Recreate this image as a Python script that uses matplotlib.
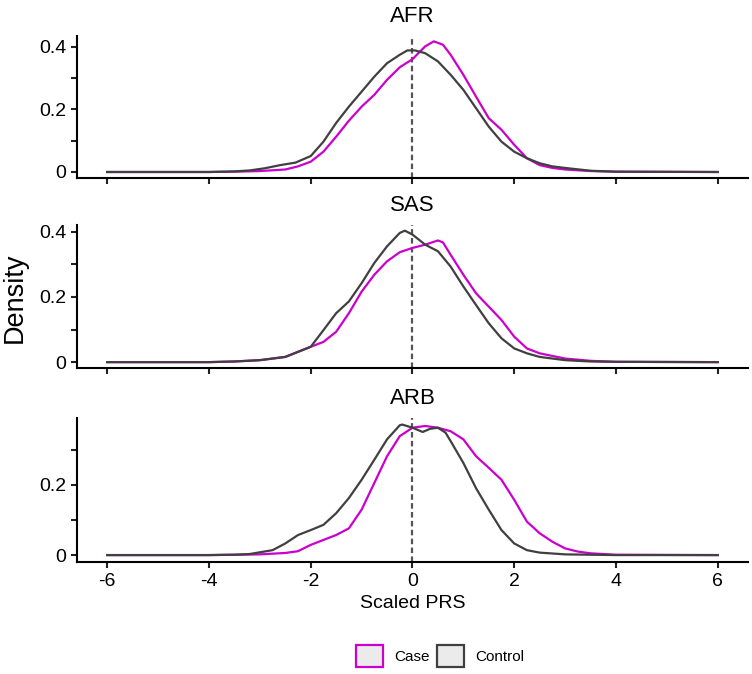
import matplotlib.pyplot as plt
from matplotlib.patches import Patch

plt.rcParams['font.family'] = ['Liberation Sans', 'DejaVu Sans']

panels = ['AFR', 'SAS', 'ARB']

# values (Scaled PRS, density)
afr_ctrl_x = [-6, -4, -3.5, -3.2, -2.9, -2.6, -2.3, -2.0, -1.75, -1.5, -1.25, -1.0, -0.75, -0.5,
              -0.25, -0.1, 0.05, 0.25, 0.5, 0.75, 1.0, 1.25, 1.5, 1.75, 2.0, 2.25, 2.5, 2.75, 3.0, 3.5, 4.0, 6.0]
afr_ctrl_y = [0, 0.0, 0.002, 0.005, 0.012, 0.022, 0.03, 0.051, 0.097, 0.157, 0.209, 0.257, 0.305, 0.348,
              0.375, 0.389, 0.389, 0.38, 0.354, 0.311, 0.263, 0.204, 0.145, 0.097, 0.065, 0.044, 0.028, 0.018, 0.013, 0.004, 0.001, 0]
afr_case_x = [-6, -4, -3.5, -3.0, -2.5, -2.25, -2.0, -1.75, -1.5, -1.25, -1.0, -0.75, -0.5, -0.25,
              0.0, 0.25, 0.42, 0.6, 0.75, 1.0, 1.25, 1.5, 1.75, 2.0, 2.25, 2.5, 2.75, 3.0, 3.5, 4.0, 6.0]
afr_case_y = [0, 0.0, 0.001, 0.003, 0.008, 0.018, 0.033, 0.065, 0.113, 0.164, 0.209, 0.247, 0.295, 0.335,
              0.361, 0.402, 0.418, 0.407, 0.375, 0.311, 0.241, 0.172, 0.135, 0.087, 0.044, 0.022, 0.013, 0.008, 0.003, 0.001, 0]

sas_ctrl_x = [-6, -4, -3.5, -3.0, -2.5, -2.0, -1.75, -1.5, -1.25, -1.0, -0.75, -0.5, -0.25, -0.15,
              0.0, 0.25, 0.5, 0.75, 1.0, 1.25, 1.5, 1.75, 2.0, 2.25, 2.5, 3.0, 3.5, 4.0, 6.0]
sas_ctrl_y = [0, 0.0, 0.002, 0.006, 0.016, 0.047, 0.098, 0.15, 0.186, 0.242, 0.304, 0.355, 0.396, 0.403,
              0.391, 0.36, 0.34, 0.293, 0.232, 0.175, 0.119, 0.073, 0.042, 0.027, 0.016, 0.006, 0.002, 0.001, 0]
sas_case_x = [-6, -4, -3.5, -3.0, -2.5, -2.0, -1.75, -1.5, -1.25, -1.0, -0.75, -0.5, -0.25, 0.0,
              0.25, 0.5, 0.6, 0.75, 1.0, 1.25, 1.5, 1.75, 2.0, 2.25, 2.5, 3.0, 3.5, 4.0, 6.0]
sas_case_y = [0, 0.0, 0.002, 0.006, 0.016, 0.047, 0.062, 0.093, 0.15, 0.216, 0.268, 0.309, 0.337, 0.35,
              0.36, 0.373, 0.367, 0.329, 0.268, 0.211, 0.17, 0.129, 0.078, 0.042, 0.027, 0.011, 0.004, 0.001, 0]

arb_ctrl_x = [-6, -4, -3.5, -3.2, -2.75, -2.5, -2.25, -2.0, -1.75, -1.5, -1.25, -1.0, -0.75, -0.5,
              -0.25, -0.2, 0.0, 0.2, 0.35, 0.5, 0.65, 0.75, 1.0, 1.25, 1.5, 1.75, 2.0, 2.25, 2.5, 3.0, 4.0, 6.0]
arb_ctrl_y = [0, 0.0, 0.001, 0.003, 0.014, 0.033, 0.057, 0.071, 0.086, 0.119, 0.162, 0.214, 0.271, 0.329,
              0.369, 0.371, 0.362, 0.35, 0.359, 0.362, 0.348, 0.324, 0.262, 0.19, 0.129, 0.071, 0.033, 0.014, 0.007, 0.002, 0.0, 0]
arb_case_x = [-6, -4, -3.5, -3.0, -2.5, -2.25, -2.0, -1.75, -1.5, -1.25, -1.0, -0.75, -0.5, -0.25,
              0.0, 0.25, 0.5, 0.75, 1.0, 1.25, 1.5, 1.75, 2.0, 2.25, 2.5, 2.75, 3.0, 3.25, 3.5, 4.0, 6.0]
arb_case_y = [0, 0.0, 0.001, 0.002, 0.006, 0.011, 0.029, 0.043, 0.057, 0.076, 0.129, 0.205, 0.281, 0.338,
              0.362, 0.367, 0.362, 0.352, 0.329, 0.281, 0.248, 0.214, 0.157, 0.095, 0.062, 0.038, 0.019, 0.01, 0.005, 0.001, 0]

ctrl = [(afr_ctrl_x, afr_ctrl_y), (sas_ctrl_x, sas_ctrl_y), (arb_ctrl_x, arb_ctrl_y)]
case = [(afr_case_x, afr_case_y), (sas_case_x, sas_case_y), (arb_case_x, arb_case_y)]
ylims = [(-0.019, 0.436), (-0.018, 0.42), (-0.02, 0.39)]
yticks = [[0, 0.1, 0.2, 0.3, 0.4], [0, 0.1, 0.2, 0.3, 0.4], [0, 0.1, 0.2, 0.3]]

case_col = '#CC00CC'
ctrl_col = '#404040'

fig = plt.figure(figsize=(7.52, 6.74), dpi=100)
boxes = [[0.102, 0.736, 0.893, 0.211],
         [0.102, 0.454, 0.893, 0.212],
         [0.102, 0.166, 0.893, 0.214]]

for i, name in enumerate(panels):
    ax = fig.add_axes(boxes[i])
    ax.axvline(0, color='#555555', lw=1.6, linestyle=(0, (2.5, 1.5)), zorder=1)
    ax.plot(*case[i], color=case_col, lw=1.6, solid_joinstyle='round', zorder=2)
    ax.plot(*ctrl[i], color=ctrl_col, lw=1.6, solid_joinstyle='round', zorder=3)
    ax.set_xlim(-6.6, 6.6)
    ax.set_ylim(*ylims[i])
    ax.set_xticks([-6, -4, -2, 0, 2, 4, 6])
    ax.set_yticks(yticks[i])
    ax.set_yticklabels(['0' if v == 0 else (f'{v:g}' if round(v * 10) % 2 == 0 else '') for v in yticks[i]])
    if i < 2:
        ax.set_xticklabels([])
    else:
        ax.set_xticklabels(['-6', '-4', '-2', '0', '2', '4', '6'])
        ax.set_xlabel('Scaled PRS', fontsize=14, labelpad=4)
    ax.tick_params(labelsize=14, width=1.5, length=4, color='#222222')
    for s in ['top', 'right']:
        ax.spines[s].set_visible(False)
    for s in ['left', 'bottom']:
        ax.spines[s].set_linewidth(1.5)
    ax.set_title(name, fontsize=16, pad=10)

fig.text(0.019, 0.558, 'Density', rotation=90, fontsize=19.5, va='center', ha='center')

handles = [Patch(facecolor='#EBEBEB', edgecolor=case_col, lw=1.6, label='Case'),
           Patch(facecolor='#EBEBEB', edgecolor=ctrl_col, lw=1.6, label='Control')]
fig.legend(handles=handles, loc='center', bbox_to_anchor=(0.585, 0.027), ncol=2, frameon=False,
           fontsize=11, handlelength=1.8, handleheight=1.8, handletextpad=0.7, columnspacing=0.5)

fig.savefig('out.png', dpi=100)
